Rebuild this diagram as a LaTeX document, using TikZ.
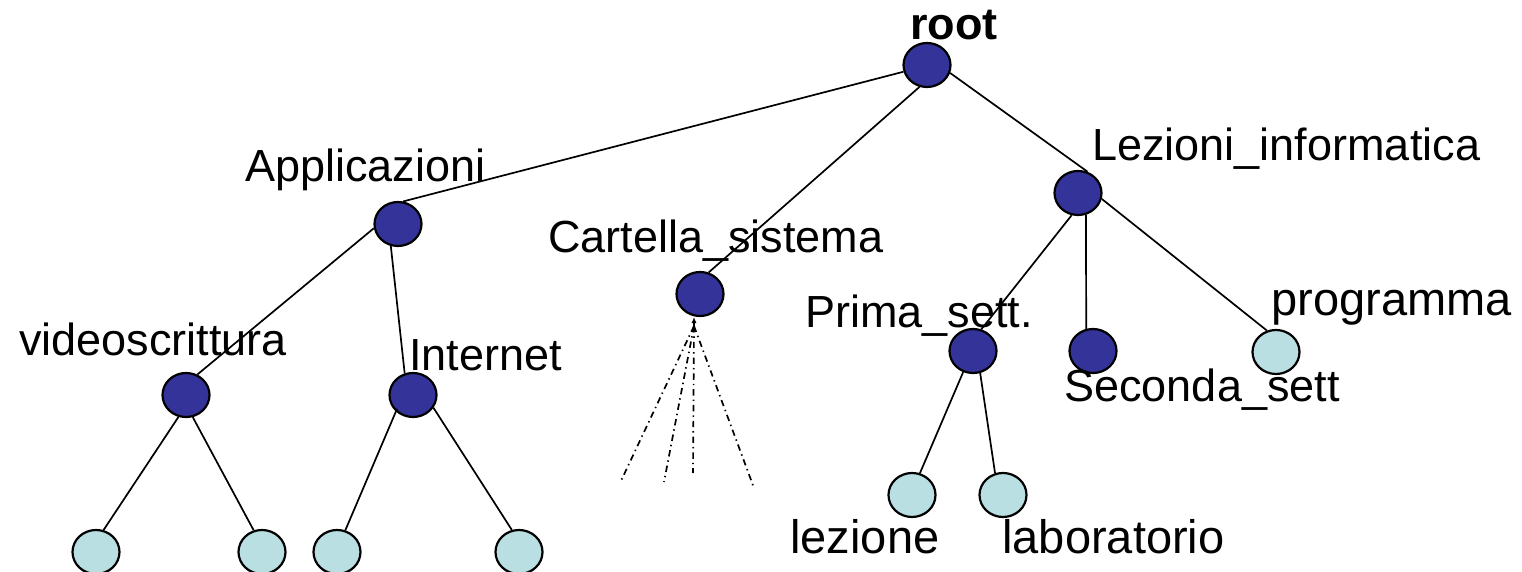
\documentclass[tikz,border=0pt]{standalone}
\usepackage{fontspec}
\setmainfont{Liberation Sans}
\usetikzlibrary{shapes.geometric,arrows.meta}
\definecolor{darkn}{RGB}{51,51,153}
\definecolor{lightn}{RGB}{185,223,226}
\begin{document}
\begin{tikzpicture}[x=0.5pt,y=-0.5pt,
  inode/.style={ellipse,draw=black,line width=1.1pt,fill=darkn,minimum width=23.5pt,minimum height=22pt,inner sep=0pt},
  leaf/.style={inode,fill=lightn},
  lbl/.style={anchor=base west,inner sep=0pt,font=\fontsize{22.5}{26}\selectfont},
  biglbl/.style={lbl,font=\fontsize{23.5}{27}\selectfont},
  edge/.style={line width=0.85pt},
  fanline/.style={line width=0.85pt,dash pattern=on 3.2pt off 2pt on 0.7pt off 2pt}]
\useasboundingbox (0,0) rectangle (1522,572);
% nodes
\node[inode] (root) at (927,65) {};
\node[inode] (app) at (398,224) {};
\node[inode] (cart) at (700,294) {};
\node[inode] (lez) at (1078,193) {};
\node[inode] (video) at (186,395) {};
\node[inode] (inet) at (413,395) {};
\node[inode] (prima) at (973,351) {};
\node[inode] (sec) at (1093,351) {};
\node[leaf] (prog) at (1276,352) {};
\node[leaf] (l1) at (96,552) {};
\node[leaf] (l2) at (262,552) {};
\node[leaf] (l3) at (337,552) {};
\node[leaf] (l4) at (519,552) {};
\node[leaf] (lezl) at (912,495) {};
\node[leaf] (labl) at (1003,495) {};
% labels
\node[lbl,font=\fontsize{22.5}{26}\selectfont\bfseries] (troot) at (910,40) {root};
\node[lbl] (tapp) at (245,182) {Applicazioni};
\node[lbl] (tcart) at (548,253) {Cartella\_sistema};
\node[lbl] (tlez) at (1092,161) {Lezioni\_informatica};
\node[lbl] (tvideo) at (19,356) {videoscrittura};
\node[lbl] (tinet) at (409,371) {Internet};
\node[lbl] (tprima) at (805,328) {Prima\_sett.};
\node[lbl] (tsec) at (1064,401) {Seconda\_sett};
\node[biglbl] (tprog) at (1271,316) {programma};
\node[biglbl] (tlezl) at (790,553) {lezione};
\node[biglbl] (tlabl) at (1002,553) {laboratorio};
% edges
\draw[edge] (root.196) -- (app.77);
\draw[edge] (root.251) -- (cart.68);
\draw[edge] (root.341) -- (lez.66);
\draw[edge] (lez.254) -- (prima.69);
\draw[edge] (lez.290) -- (sec.107);
\draw[edge] (lez.346) -- (prog.113);
\draw[edge] (app.190) -- (video.61);
\draw[edge] (app.252) -- (inet.111);
\draw[edge] (video.251) -- (l1.71);
\draw[edge] (video.287) -- (l2.111);
\draw[edge] ([shift={(-8pt,-7pt)}]inet.center) -- (l3.69);
\draw[edge] (inet.328) -- (l4.108);
\draw[edge] (prima.245) -- (lezl.70);
\draw[edge] (prima.288) -- (labl.110);
% dash-dot fan under Cartella_sistema
\coordinate (fanc) at (694,326);
\coordinate (fe1) at (620,483);
\coordinate (fe2) at (664,482);
\coordinate (fe3) at (693,473);
\coordinate (fe4) at (754,488);
\draw[fanline,-{Latex[length=3pt,width=2.6pt]}] (fanc) -- (cart.south -| fanc);
\draw[fanline] (fanc) -- (fe1);
\draw[fanline] (fanc) -- (fe2);
\draw[fanline] (fanc) -- (fe3);
\draw[fanline] (fanc) -- (fe4);
\end{tikzpicture}
\end{document}
